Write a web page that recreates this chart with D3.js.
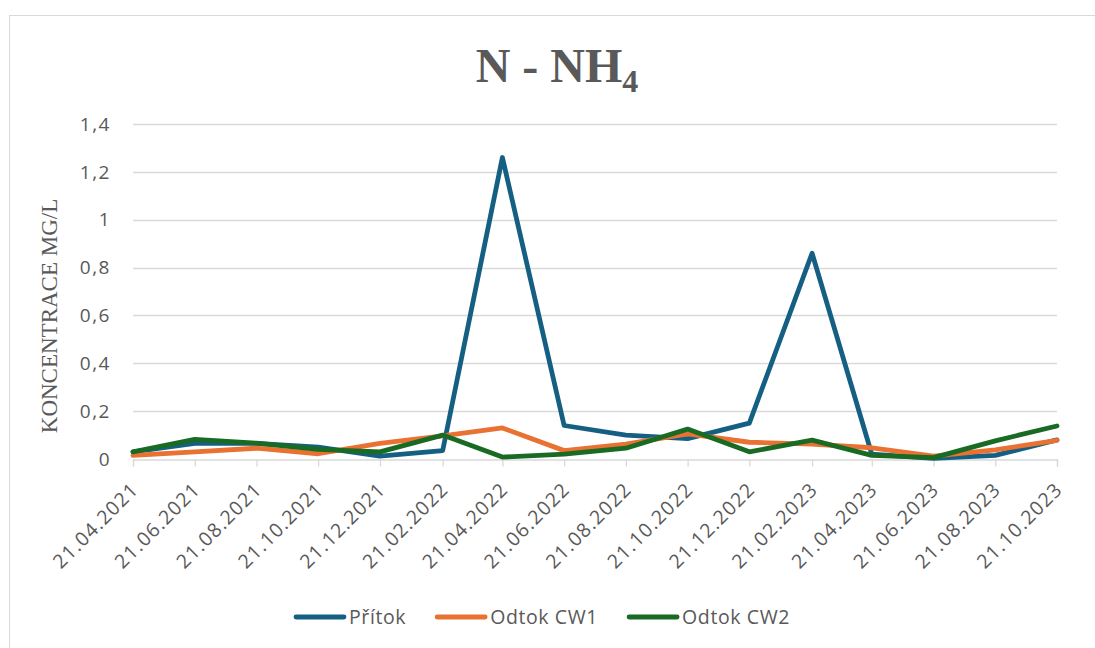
<!DOCTYPE html>
<html>
<head>
<meta charset="utf-8">
<script src="https://cdn.jsdelivr.net/npm/d3@7"></script>
<style>
  body { margin: 0; background: #fff; }
  svg { display: block; }
</style>
</head>
<body>
<div id="chart"></div>
<script>
// data
var dates = ["21.04.2021", "21.06.2021", "21.08.2021", "21.10.2021", "21.12.2021",
  "21.02.2022", "21.04.2022", "21.06.2022", "21.08.2022", "21.10.2022",
  "21.12.2022", "21.02.2023", "21.04.2023", "21.06.2023", "21.08.2023", "21.10.2023"];
var pritok = [0.03, 0.065, 0.065, 0.05, 0.012, 0.035, 1.26, 0.14, 0.1, 0.085, 0.15, 0.86, 0.02, 0.003, 0.015, 0.08];
var odtokCW1 = [0.015, 0.03, 0.045, 0.022, 0.065, 0.097, 0.13, 0.035, 0.062, 0.105, 0.07, 0.062, 0.047, 0.012, 0.038, 0.078];
var odtokCW2 = [0.03, 0.082, 0.066, 0.04, 0.03, 0.1, 0.008, 0.02, 0.045, 0.125, 0.03, 0.079, 0.015, 0.006, 0.076, 0.138];
var yTicks = [0, 0.2, 0.4, 0.6, 0.8, 1, 1.2, 1.4];

var series = [
  { name: "Přítok", values: pritok, color: "#156082" },
  { name: "Odtok CW1", values: odtokCW1, color: "#E97132" },
  { name: "Odtok CW2", values: odtokCW2, color: "#196B24" }
];

var W = 1095, H = 648;
var margin = { top: 124, right: 38, bottom: 189, left: 133 };
var textColor = "#595959", gridColor = "#d9d9d9";
var sans = "'Open Sans', sans-serif";
var serif = "'Liberation Serif', 'Times New Roman', serif";

var parse = d3.timeParse("%d.%m.%Y");
var xDates = dates.map(parse);

var svg = d3.select("#chart").append("svg")
  .attr("width", W)
  .attr("height", H);

// chart frame
svg.append("rect")
  .attr("x", 9.5).attr("y", 15.5)
  .attr("width", W + 10).attr("height", H + 10)
  .attr("fill", "none")
  .attr("stroke", gridColor)
  .attr("stroke-width", 1);

var x = d3.scaleTime()
  .domain(d3.extent(xDates))
  .range([margin.left, W - margin.right]);

var y = d3.scaleLinear()
  .domain([0, 1.4])
  .range([H - margin.bottom, margin.top]);

// gridlines
svg.append("g")
  .selectAll("line")
  .data(yTicks.filter(function (d) { return d > 0; }))
  .enter()
  .append("line")
  .attr("x1", margin.left).attr("x2", W - margin.right)
  .attr("y1", function (d) { return Math.round(y(d)) + 0.5; })
  .attr("y2", function (d) { return Math.round(y(d)) + 0.5; })
  .attr("stroke", gridColor)
  .attr("stroke-width", 1.3);

// y axis labels
var fmt = function (d) { return String(+d.toFixed(1)).replace(".", ","); };
svg.append("g")
  .selectAll("text")
  .data(yTicks)
  .enter()
  .append("text")
  .attr("x", 111)
  .attr("y", function (d) { return y(d); })
  .attr("dy", "0.35em")
  .attr("text-anchor", "end")
  .style("font-family", sans)
  .style("font-size", "19px")
  .style("letter-spacing", "1.5px")
  .style("fill", textColor)
  .text(fmt);

// x axis line + ticks
var xAxis = d3.axisBottom(x)
  .tickValues(xDates)
  .tickSize(7)
  .tickFormat("");
var gx = svg.append("g")
  .attr("transform", "translate(0," + (Math.round(y(0)) + 0.5) + ")")
  .call(xAxis);
gx.select(".domain").attr("stroke", gridColor).attr("stroke-width", 1.3);
gx.selectAll(".tick line").attr("stroke", gridColor).attr("stroke-width", 1.3);

// rotated date labels
svg.append("g")
  .selectAll("text")
  .data(xDates)
  .enter()
  .append("text")
  .attr("transform", function (d) {
    return "translate(" + (x(d) + 2) + "," + (y(0) + 27) + ") rotate(-45)";
  })
  .attr("dy", "0.35em")
  .attr("text-anchor", "end")
  .style("font-family", sans)
  .style("font-size", "19.5px")
  .style("letter-spacing", "1.2px")
  .style("fill", textColor)
  .text(function (d, i) { return dates[i]; });

// lines
var line = d3.line()
  .x(function (d, i) { return x(xDates[i]); })
  .y(function (d) { return y(d); });

svg.append("g")
  .selectAll("path")
  .data(series)
  .enter()
  .append("path")
  .attr("d", function (s) { return line(s.values); })
  .attr("fill", "none")
  .attr("stroke", function (s) { return s.color; })
  .attr("stroke-width", 4.8)
  .attr("stroke-linejoin", "round")
  .attr("stroke-linecap", "round");

// title
var title = svg.append("text")
  .attr("x", 557)
  .attr("y", 82)
  .attr("text-anchor", "middle")
  .style("font-family", serif)
  .style("font-weight", "bold")
  .style("font-size", "48px")
  .style("fill", textColor);
title.append("tspan").text("N - NH");
title.append("tspan").attr("dy", 10).style("font-size", "32px").text("4");

// y axis title
svg.append("text")
  .attr("transform", "translate(57,316) rotate(-90)")
  .attr("text-anchor", "middle")
  .style("font-family", serif)
  .style("font-size", "23px")
  .style("fill", textColor)
  .text("KONCENTRACE MG/L");

// legend
var legend = svg.append("g");
var lx = 0;
series.forEach(function (s, i) {
  var g = legend.append("g").attr("transform", "translate(" + lx + ",0)");
  g.append("line")
    .attr("x1", 2).attr("x2", 50)
    .attr("y1", 0).attr("y2", 0)
    .attr("stroke", s.color)
    .attr("stroke-width", 4.8)
    .attr("stroke-linecap", "round");
  var t = g.append("text")
    .attr("x", 55)
    .attr("dy", "0.35em")
    .style("font-family", sans)
    .style("font-size", "19.5px")
    .style("letter-spacing", "0.6px")
    .style("fill", textColor)
    .text(s.name);
  lx += 55 + t.node().getComputedTextLength() + 29;
});
var legW = lx - 29;
legend.attr("transform", "translate(" + (542 - legW / 2) + ",617)");
</script>
</body>
</html>
